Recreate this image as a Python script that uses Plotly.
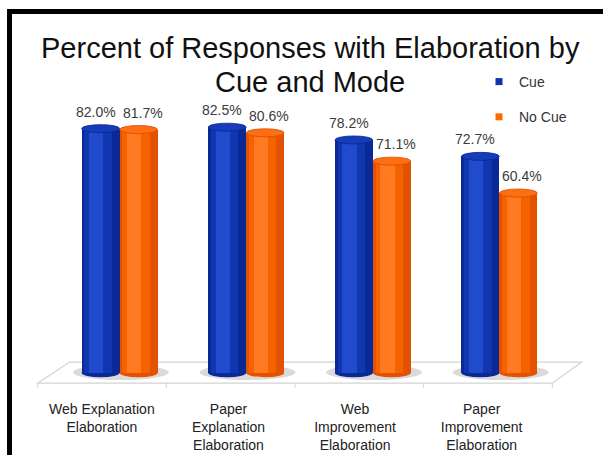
import plotly.graph_objects as go

# ---- data ----
categories = ["Web Explanation<br>Elaboration",
              "Paper<br>Explanation<br>Elaboration",
              "Web<br>Improvement<br>Elaboration",
              "Paper<br>Improvement<br>Elaboration"]
series_names = ["Cue", "No Cue"]
cue = [82.0, 82.5, 78.2, 72.7]
no_cue = [81.7, 80.6, 71.1, 60.4]

# ---- layout geometry ----
W, H = 603, 455
L, R, T, B = 31, 15, 75, 64
PW, PH = W - L - R, H - T - B
XR = [-0.7, 3.7]
YR = [-6, 100]
FONT = "Liberation Sans, Arial, sans-serif"


def pxx(px):
    return (px - L) / PW


def pxy(py):
    return (H - B - py) / PH


BAR_W = 0.3
styles = {
    "Cue": dict(dark="#0a2896", mid="#1036b0", light="#1f4bcc", cap="#163cba",
                capline="#0a2690", legend="#0b32b0", off=-0.15),
    "No Cue": dict(dark="#e25200", mid="#f56200", light="#ff7a20", cap="#ff6e12",
                   capline="#d44e00", legend="#ff6a00", off=0.15),
}

fig = go.Figure()
shapes = []
annotations = []

idx = list(range(len(categories)))

# floor (perspective plane)
fx0, fx1 = -0.647, 3.418   # front edge
bx0, bx1 = -0.395, 3.65    # back edge
yF, yB = -3.36, 3.69
shapes.append(dict(type="path", xref="x", yref="y", layer="below",
                   path=f"M{fx0},{yF} L{fx1},{yF} L{bx1},{yB} L{bx0},{yB} Z",
                   fillcolor="white", line=dict(color="#d4d4d4", width=1.2)))
for k in range(len(categories) + 1):
    tx = fx0 + k * (fx1 - fx0) / len(categories)
    shapes.append(dict(type="line", xref="x", yref="y", layer="below",
                       x0=tx, x1=tx, y0=yF, y1=yF - 1.6,
                       line=dict(color="#d4d4d4", width=1)))

# soft shadows behind each group
for i in idx:
    shapes.append(dict(type="circle", xref="x", yref="y", layer="below",
                       x0=i - 0.37, x1=i + 0.39, y0=-2.3, y1=2.8,
                       fillcolor="rgba(150,150,150,0.35)", line=dict(width=0)))

for name, vals in zip(series_names, [cue, no_cue]):
    s = styles[name]
    xs = [i + s["off"] for i in idx]
    # cylinder body with simple shading layers
    fig.add_trace(go.Bar(x=xs, y=vals, width=BAR_W, marker=dict(color=s["dark"], line=dict(width=0)),
                         showlegend=False, hoverinfo="skip"))
    fig.add_trace(go.Bar(x=[x - 0.02 for x in xs], y=vals, width=BAR_W * 0.72,
                         marker=dict(color=s["mid"], line=dict(width=0)),
                         showlegend=False, hoverinfo="skip"))
    fig.add_trace(go.Bar(x=[x - 0.035 for x in xs], y=vals, width=BAR_W * 0.38,
                         marker=dict(color=s["light"], line=dict(width=0)),
                         showlegend=False, hoverinfo="skip"))
    # legend entry
    fig.add_trace(go.Scatter(x=[None], y=[None], mode="markers", name=name,
                             legendgroup=name,
                             marker=dict(symbol="square", size=7, color=s["legend"])))
    for x, v in zip(xs, vals):
        # bottom rounding
        shapes.append(dict(type="circle", xref="x", yref="y", layer="below",
                           x0=x - BAR_W / 2, x1=x + BAR_W / 2, y0=-1.35, y1=1.35,
                           fillcolor=s["dark"], line=dict(width=0)))
        # top cap
        shapes.append(dict(type="circle", xref="x", yref="y", layer="above",
                           x0=x - BAR_W / 2, x1=x + BAR_W / 2, y0=v - 1.35, y1=v + 1.35,
                           fillcolor=s["cap"], line=dict(color=s["capline"], width=0.8)))
        annotations.append(dict(x=x, y=v, xref="x", yref="y", text=f"{v:.1f}%",
                                showarrow=False, yshift=17,
                                xshift=-5 if name == "Cue" else 4,
                                font=dict(family=FONT, size=14, color="#3c3c3c")))

# title (two lines)
annotations.append(dict(x=pxx(310), y=pxy(48), xref="paper", yref="paper",
                        text="Percent of Responses with Elaboration by", showarrow=False,
                        font=dict(family=FONT, size=29, color="#111111"),
                        xanchor="center", yanchor="middle"))
annotations.append(dict(x=pxx(310), y=pxy(82), xref="paper", yref="paper",
                        text="Cue and Mode", showarrow=False,
                        font=dict(family=FONT, size=29, color="#111111"),
                        xanchor="center", yanchor="middle"))

# black frame (left and top)
shapes.append(dict(type="rect", xref="paper", yref="paper", layer="above",
                   x0=pxx(7), x1=pxx(12), y0=pxy(520), y1=pxy(9),
                   fillcolor="black", line=dict(width=0)))
shapes.append(dict(type="rect", xref="paper", yref="paper", layer="above",
                   x0=pxx(7), x1=pxx(610), y0=pxy(14), y1=pxy(9),
                   fillcolor="black", line=dict(width=0)))

fig.update_layout(
    width=W, height=H,
    margin=dict(l=L, r=R, t=T, b=B, autoexpand=False),
    paper_bgcolor="white", plot_bgcolor="white",
    barmode="overlay", bargap=0,
    shapes=shapes, annotations=annotations,
    showlegend=True,
    legend=dict(x=pxx(479), y=pxy(66), xanchor="left", yanchor="top",
                font=dict(family=FONT, size=14, color="#333333"),
                bgcolor="rgba(0,0,0,0)", tracegroupgap=14, itemwidth=30,
                traceorder="grouped"),
    xaxis=dict(range=XR, tickvals=[i - 0.14 for i in idx], ticktext=categories,
               showgrid=False, zeroline=False, showline=False, automargin=False,
               ticks="outside", ticklen=5, tickcolor="rgba(0,0,0,0)",
               tickfont=dict(family=FONT, size=14, color="#222222"),
               fixedrange=True),
    yaxis=dict(range=YR, visible=False, fixedrange=True, automargin=False),
)

fig.write_html("out.html")
